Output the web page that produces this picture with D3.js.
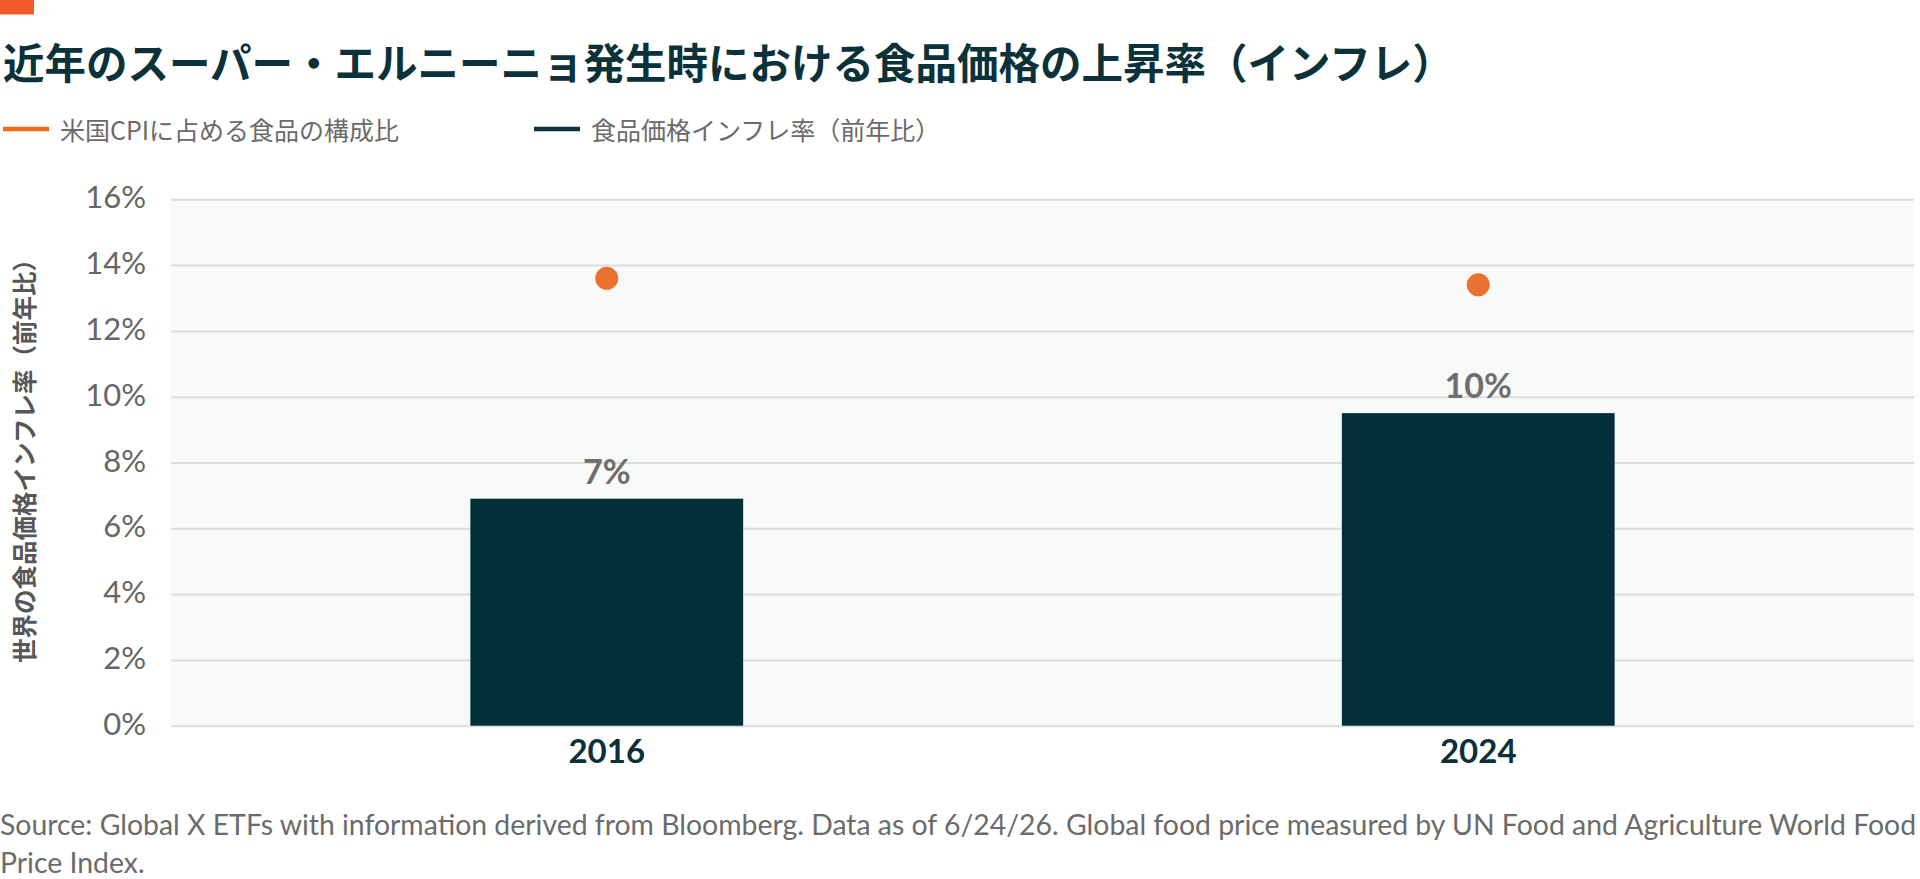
<!DOCTYPE html>
<html lang="ja">
<head>
    <meta charset="UTF-8">
    <title>食品価格の上昇率</title>
    <script src="https://cdn.jsdelivr.net/npm/d3@7"></script>
    <style>
        body { margin: 0; background: #fff; }
        svg { display: block; }
    </style>
</head>
<body>
<script>
    // data
    const years = ['2016', '2024']
    const foodInflation = [0.069, 0.095]      // bars
    const cpiFoodShare = [0.136, 0.134]       // dots
    const yTicks = [0, 0.02, 0.04, 0.06, 0.08, 0.10, 0.12, 0.14, 0.16]
    const legendLabels = ['米国CPIに占める食品の構成比', '食品価格インフレ率（前年比）']
    const title = '近年のスーパー・エルニーニョ発生時における食品価格の上昇率（インフレ）'
    const yTitle = '世界の食品価格インフレ率（前年比）'
    const notes = [
        'Source: Global X ETFs with information derived from Bloomberg. Data as of 6/24/26. Global food price measured by UN Food and Agriculture World Food',
        'Price Index.'
    ]

    const [width, height] = [1920, 879]
    const plot = {left: 171, right: 1914, top: 199.3, bottom: 725.7}
    const jp = '"Noto Sans CJK JP", "Noto Sans", sans-serif'
    const latin = 'Lato, "Noto Sans", sans-serif'
    const dark = '#032f38'
    const orange = '#ea7231'

    const x = d3.scaleBand().domain(years).range([plot.left, plot.right])
        .paddingInner(0.687).paddingOuter(0.3435)
    const y = d3.scaleLinear().domain([0, 0.16]).range([plot.bottom, plot.top])
    const pct = d3.format('.0%')

    const svg = d3.select('body').append('svg')
        .attr('width', width)
        .attr('height', height)

    // top accent + title
    svg.append('rect').attr('x', 0).attr('y', 0).attr('width', 34).attr('height', 14.5).attr('fill', '#f15a29')
    svg.append('text').text(title)
        .attr('x', 3).attr('y', 61)
        .attr('dominant-baseline', 'central')
        .attr('font-family', jp).attr('font-weight', 700).attr('font-size', 41.5)
        .attr('fill', '#0b3139')

    // legend
    const legend = svg.append('g').selectAll('g')
        .data(legendLabels)
        .enter().append('g')
        .attr('transform', (d, i) => `translate(${[3, 534][i]},129)`)
    legend.append('line')
        .attr('x1', 0).attr('x2', 46)
        .attr('stroke', (d, i) => i === 0 ? '#f26b1d' : '#0e333c')
        .attr('stroke-width', 4.5)
    legend.append('text').text(d => d)
        .attr('x', 57)
        .attr('dominant-baseline', 'central')
        .attr('font-family', jp).attr('font-size', 25)
        .attr('fill', '#6a6a6a')

    // plot background + grid
    svg.append('rect')
        .attr('x', plot.left).attr('y', plot.top)
        .attr('width', plot.right - plot.left).attr('height', plot.bottom - plot.top)
        .attr('fill', '#f8f9f9')

    const yAxis = svg.append('g')
        .attr('transform', `translate(${plot.left},0)`)
        .call(d3.axisLeft(y).tickValues(yTicks).tickFormat(pct)
            .tickSize(-(plot.right - plot.left)).tickPadding(25))
    yAxis.select('.domain').remove()
    yAxis.selectAll('.tick line').attr('stroke', '#dcdcdc').attr('stroke-width', 2)
    yAxis.selectAll('.tick text')
        .attr('font-family', latin).attr('font-size', 31)
        .attr('fill', '#666').attr('dy', '0.28em')

    svg.append('text').text(yTitle)
        .attr('transform', 'translate(23,455) rotate(-90)')
        .attr('text-anchor', 'middle').attr('dominant-baseline', 'central')
        .attr('font-family', jp).attr('font-weight', 700).attr('font-size', 24.5)
        .attr('fill', '#575757')

    // bars
    svg.append('g').selectAll('rect')
        .data(years)
        .enter().append('rect')
        .attr('x', d => x(d))
        .attr('width', x.bandwidth())
        .attr('y', (d, i) => y(foodInflation[i]))
        .attr('height', (d, i) => y(0) - y(foodInflation[i]))
        .attr('fill', dark)

    svg.append('g').selectAll('text')
        .data(years)
        .enter().append('text')
        .text((d, i) => Math.round(foodInflation[i] * 100) + '%')
        .attr('x', d => x(d) + x.bandwidth() / 2)
        .attr('y', (d, i) => y(foodInflation[i]) - 15)
        .attr('text-anchor', 'middle')
        .attr('font-family', latin).attr('font-weight', 700).attr('font-size', 34)
        .attr('fill', '#6e6e6e')

    // dots
    svg.append('g').selectAll('circle')
        .data(years)
        .enter().append('circle')
        .attr('cx', d => x(d) + x.bandwidth() / 2)
        .attr('cy', (d, i) => y(cpiFoodShare[i]))
        .attr('r', 11.5)
        .attr('fill', orange)

    // x labels
    const xAxis = svg.append('g')
        .attr('transform', `translate(0,${plot.bottom})`)
        .call(d3.axisBottom(x).tickSize(0).tickPadding(14))
    xAxis.select('.domain').remove()
    xAxis.selectAll('.tick text')
        .attr('font-family', latin).attr('font-weight', 700).attr('font-size', 33)
        .attr('fill', '#0b3039')

    // footnote
    svg.append('g').selectAll('text')
        .data(notes)
        .enter().append('text').text(d => d)
        .attr('x', 0)
        .attr('y', (d, i) => 835 + i * 38)
        .attr('font-family', latin).attr('font-size', 28.4)
        .attr('fill', '#6b6b6b')
</script>
</body>
</html>
